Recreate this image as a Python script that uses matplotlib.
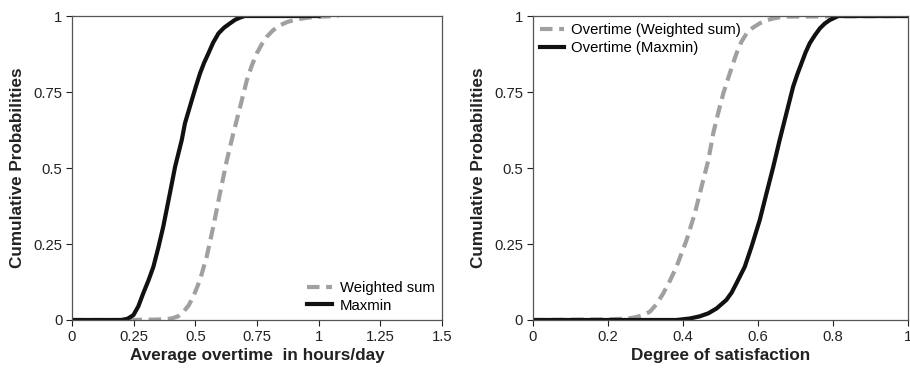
import numpy as np
import matplotlib
matplotlib.use('Agg')
import matplotlib.pyplot as plt

plt.rcParams['font.family'] = ['Liberation Sans', 'DejaVu Sans']

# left panel: average overtime
ot_ws_x = [0.0, 0.22, 0.30, 0.37, 0.404, 0.43, 0.452, 0.473, 0.492, 0.519, 0.546, 0.573, 0.600,
           0.628, 0.654, 0.682, 0.709, 0.729, 0.749, 0.770, 0.790, 0.815, 0.844, 0.875, 0.912,
           0.96, 1.006, 1.08]
ot_ws_y = [0.0, 0.0, 0.001, 0.002, 0.005, 0.012, 0.027, 0.048, 0.077, 0.132, 0.208, 0.307, 0.417,
           0.526, 0.614, 0.702, 0.789, 0.837, 0.877, 0.908, 0.932, 0.953, 0.970, 0.981, 0.989,
           0.995, 0.998, 1.0]
ot_mm_x = [0.0, 0.20, 0.225, 0.249, 0.269, 0.289, 0.31, 0.33, 0.350, 0.370, 0.397, 0.418, 0.445,
           0.458, 0.486, 0.503, 0.519, 0.535, 0.553, 0.572, 0.594, 0.617, 0.641, 0.662, 0.682,
           0.70, 1.0]
ot_mm_y = [0.0, 0.0, 0.004, 0.016, 0.045, 0.088, 0.130, 0.175, 0.238, 0.307, 0.417, 0.504, 0.592,
           0.647, 0.724, 0.770, 0.811, 0.845, 0.877, 0.912, 0.943, 0.962, 0.976, 0.988, 0.995,
           1.0, 1.0]

# right panel: degree of satisfaction
sat_ws_x = [0.0, 0.20, 0.255, 0.277, 0.295, 0.312, 0.330, 0.348, 0.366, 0.383, 0.410, 0.432,
            0.450, 0.468, 0.481, 0.494, 0.508, 0.525, 0.543, 0.556, 0.570, 0.587, 0.605, 0.623,
            0.641, 0.667, 1.0]
sat_ws_y = [0.0, 0.002, 0.005, 0.01, 0.017, 0.027, 0.052, 0.088, 0.130, 0.175, 0.263, 0.351,
            0.439, 0.526, 0.614, 0.680, 0.746, 0.811, 0.877, 0.915, 0.943, 0.962, 0.976, 0.986,
            0.992, 0.998, 1.0]
sat_mm_x = [0.0, 0.383, 0.419, 0.445, 0.468, 0.490, 0.516, 0.530, 0.543, 0.565, 0.583, 0.605,
            0.623, 0.641, 0.658, 0.676, 0.694, 0.705, 0.716, 0.727, 0.738, 0.752, 0.765, 0.778,
            0.792, 0.814, 1.0]
sat_mm_y = [0.0, 0.0, 0.005, 0.012, 0.022, 0.038, 0.066, 0.090, 0.121, 0.175, 0.241, 0.329,
            0.417, 0.504, 0.592, 0.680, 0.768, 0.808, 0.844, 0.880, 0.910, 0.937, 0.959, 0.975,
            0.987, 1.0, 1.0]

yticks = [0, 0.25, 0.5, 0.75, 1]
ytick_labels = ['0', '0.25', '0.5', '0.75', '1']
left_xticks = [0, 0.25, 0.5, 0.75, 1, 1.25, 1.5]
left_xtick_labels = ['0', '0.25', '0.5', '0.75', '1', '1.25', '1.5']
right_xticks = [0, 0.2, 0.4, 0.6, 0.8, 1]
right_xtick_labels = ['0', '0.2', '0.4', '0.6', '0.8', '1']

grey = '#a0a0a0'
black = '#111111'

fig = plt.figure(figsize=(9.1, 3.69), dpi=100)
ax1 = fig.add_axes([0.0791, 0.1328, 0.4066, 0.8238])
ax2 = fig.add_axes([0.5854, 0.1328, 0.4124, 0.8238])


def style(ax, xticks, xlabels, xlabel):
    ax.set_ylim(0, 1)
    ax.set_xlim(xticks[0], xticks[-1])
    ax.set_xticks(xticks)
    ax.set_xticklabels(xlabels)
    ax.set_yticks(yticks)
    ax.set_yticklabels(ytick_labels)
    ax.tick_params(direction='out', length=4, width=0.8, labelsize=10.7, colors='#222222',
                   pad=3)
    for s in ax.spines.values():
        s.set_color('#555555')
        s.set_linewidth(0.9)
    ax.set_xlabel(xlabel, fontsize=12.3, fontweight='bold', labelpad=3, color='#222222')
    ax.set_ylabel('Cumulative Probabilities', fontsize=12.3, fontweight='bold', labelpad=6,
                  color='#222222')


ax1.plot(ot_ws_x, ot_ws_y, color=grey, lw=3, dashes=(3, 1.6), label='Weighted sum')
ax1.plot(ot_mm_x, ot_mm_y, color=black, lw=3, label='Maxmin')
style(ax1, left_xticks, left_xtick_labels, 'Average overtime  in hours/day')
ax1.legend(loc='lower right', frameon=False, fontsize=10.7, handlelength=1.7,
           handletextpad=0.5, borderaxespad=0.1, labelspacing=0.25)

ax2.plot(sat_ws_x, sat_ws_y, color=grey, lw=3, dashes=(3, 1.6), label='Overtime (Weighted sum)')
ax2.plot(sat_mm_x, sat_mm_y, color=black, lw=3, label='Overtime (Maxmin)')
style(ax2, right_xticks, right_xtick_labels, 'Degree of satisfaction')
ax2.legend(loc='upper left', frameon=False, fontsize=10.7, handlelength=1.6,
           handletextpad=0.5, borderaxespad=0.1, labelspacing=0.25)

fig.savefig('out.png', dpi=100)
